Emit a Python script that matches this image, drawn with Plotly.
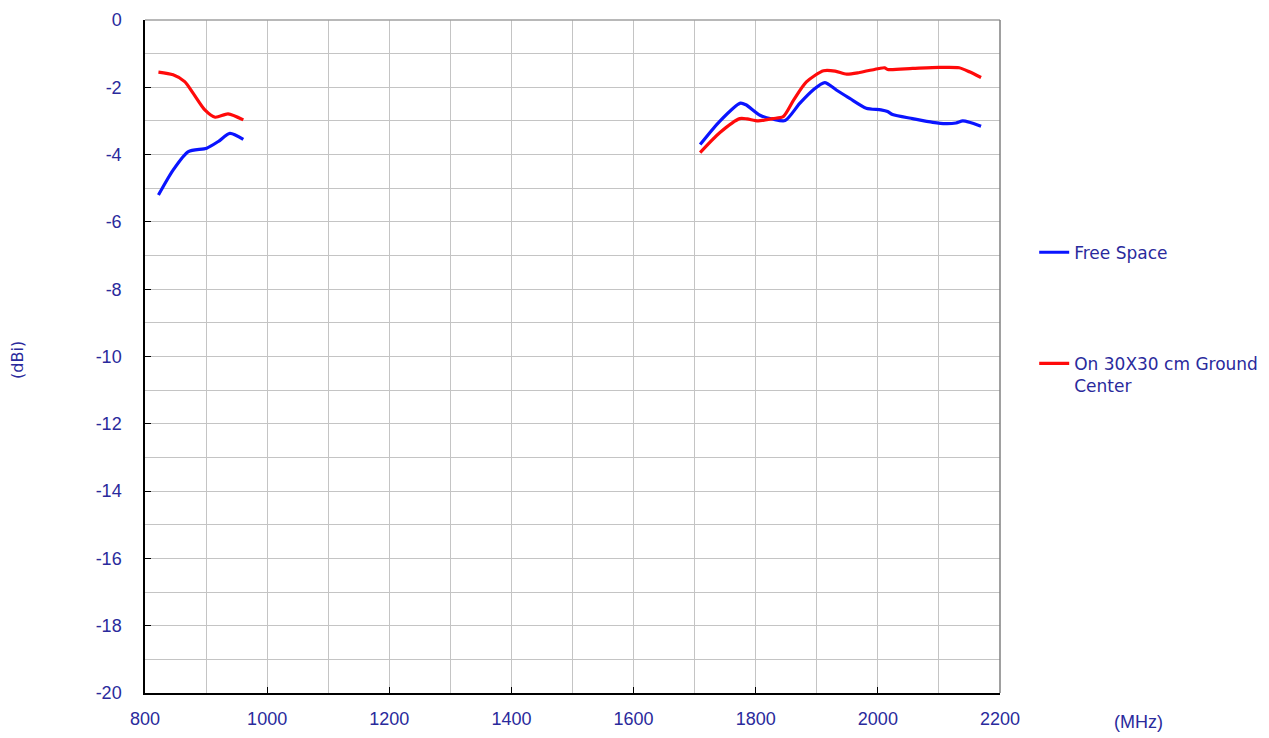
import plotly.graph_objects as go

# Frequency (MHz) and gain (dBi)
free_low_f = [822, 846, 871, 901, 920, 939, 961]
free_low_v = [-5.2, -4.46, -3.91, -3.81, -3.61, -3.37, -3.55]
free_high_f = [1709, 1741, 1775, 1784, 1807, 1829, 1848, 1872, 1894, 1913, 1932, 1954, 1981,
               2005, 2016, 2024, 2057, 2090, 2111, 2128, 2139, 2150, 2169]
free_high_v = [-3.70, -3.01, -2.47, -2.52, -2.83, -2.95, -2.99, -2.48, -2.08, -1.86, -2.08, -2.33, -2.62,
               -2.67, -2.72, -2.81, -2.93, -3.04, -3.08, -3.06, -3.0, -3.04, -3.16]

gnd_low_f = [822, 846, 865, 879, 898, 915, 936, 961]
gnd_low_v = [-1.55, -1.63, -1.83, -2.18, -2.67, -2.89, -2.79, -2.97]
gnd_high_f = [1709, 1741, 1774, 1786, 1804, 1828, 1845, 1862, 1883, 1911, 1930, 1949, 1970, 2002,
              2011, 2016, 2057, 2101, 2133, 2150, 2169]
gnd_high_v = [-3.94, -3.35, -2.93, -2.94, -3.0, -2.93, -2.87, -2.38, -1.84, -1.51, -1.52, -1.61, -1.56, -1.44,
              -1.42, -1.47, -1.44, -1.41, -1.42, -1.54, -1.71]

series_names = ["Free Space", "On 30X30 cm Ground<br>Center"]
series_colors = ["#0a14ff", "#ff0a0a"]

x_ticks = [800, 1000, 1200, 1400, 1600, 1800, 2000, 2200]
y_ticks = [0, -2, -4, -6, -8, -10, -12, -14, -16, -18, -20]

TXT = "#2a2a9c"
FONT = "Liberation Sans, Arial, sans-serif"
WIDE = "DejaVu Sans, Verdana, sans-serif"

fig = go.Figure()
fig.add_trace(go.Scatter(
    x=free_low_f + [None] + free_high_f,
    y=free_low_v + [None] + free_high_v,
    mode="lines", name=series_names[0], legendgroup="a",
    line=dict(color=series_colors[0], width=3.2, shape="spline", smoothing=0.7),
))
fig.add_trace(go.Scatter(
    x=gnd_low_f + [None] + gnd_high_f,
    y=gnd_low_v + [None] + gnd_high_v,
    mode="lines", name=series_names[1], legendgroup="b",
    line=dict(color=series_colors[1], width=3.2, shape="spline", smoothing=0.7),
))

# page body has an 8px margin, so the figure is 8px smaller than the window
fig.update_layout(
    width=1261, height=730,
    margin=dict(l=137, r=269, t=12, b=45, autoexpand=False),
    paper_bgcolor="white", plot_bgcolor="white",
    font=dict(family=FONT, color=TXT, size=16),
    showlegend=True,
    legend=dict(
        x=1.040, xanchor="left", y=0.681, yanchor="top",
        font=dict(size=17, color=TXT, family=WIDE),
        tracegroupgap=86, itemwidth=30, valign="top",
        bgcolor="rgba(0,0,0,0)",
    ),
    xaxis=dict(
        range=[800, 2200], tickvals=x_ticks, ticktext=[str(v) for v in x_ticks],
        showgrid=True, gridcolor="#c4c4c4", gridwidth=1,
        minor=dict(dtick=100, showgrid=True, gridcolor="#c4c4c4", gridwidth=1),
        showline=True, linecolor="black", linewidth=1.5,
        ticks="inside", ticklen=6, tickcolor="black",
        tickfont=dict(size=18, color=TXT), ticklabelstandoff=9,
        zeroline=False, automargin=False,
    ),
    yaxis=dict(
        range=[-20, 0], tickvals=y_ticks, ticktext=[str(v) for v in y_ticks],
        showgrid=True, gridcolor="#c4c4c4", gridwidth=1,
        minor=dict(dtick=1, showgrid=True, gridcolor="#c4c4c4", gridwidth=1),
        showline=True, linecolor="black", linewidth=1.5,
        ticks="inside", ticklen=6, tickcolor="black",
        tickfont=dict(size=18, color=TXT), ticklabelstandoff=18,
        zeroline=False, automargin=False,
    ),
    shapes=[
        dict(type="line", xref="paper", yref="paper", x0=0, x1=1, y0=1, y1=1,
             line=dict(color="#a0a0a0", width=1.5)),
        dict(type="line", xref="paper", yref="paper", x0=1, x1=1, y0=0, y1=1,
             line=dict(color="#808080", width=1.5)),
    ],
    annotations=[
        dict(text="(dBi)", xref="paper", yref="paper", x=-0.1485, y=0.495,
             xanchor="center", yanchor="middle", textangle=-90, showarrow=False,
             font=dict(size=16, color=TXT, family=WIDE)),
        dict(text="(MHz)", xref="paper", yref="paper", x=1.162, y=-0.043,
             xanchor="center", yanchor="middle", showarrow=False,
             font=dict(size=18, color=TXT)),
    ],
)

fig.write_html("out.html")
